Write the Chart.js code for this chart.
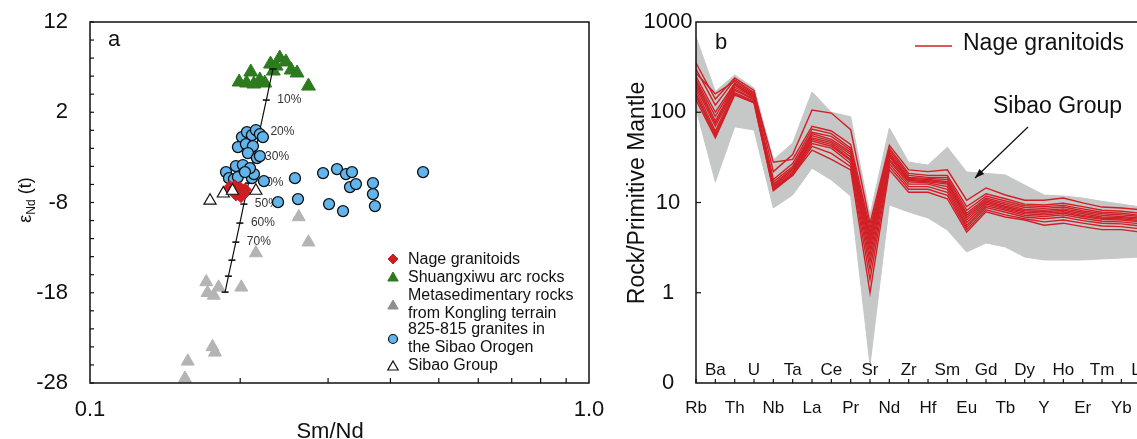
<!DOCTYPE html>
<html>
<head>
<meta charset="utf-8">
<script src="https://cdn.jsdelivr.net/npm/chart.js@4.4.0/dist/chart.umd.min.js"></script>
<style>
html, body { margin:0; padding:0; background:#fff; overflow:hidden; }
#wrap { position:relative; width:1137px; height:439px; overflow:hidden; }
#chartA { position:absolute; left:0; top:0; }
#chartB { position:absolute; left:600px; top:0; }
</style>
</head>
<body>
<div id="wrap">
<canvas id="chartA" width="640" height="439"></canvas>
<canvas id="chartB" width="560" height="439"></canvas>
</div>
<script>
// ---- panel a : Sm/Nd vs eNd(t) ----
const nageSmNd = [0.1908,0.1952,0.1979,0.2016,0.1998,0.2044,0.1934,0.1961,0.2007,0.2035];
const nageEps  = [-6.3,-6.2,-6.6,-6.8,-6.4,-6.6,-6.5,-7.1,-7.3,-7.0];
const arcSmNd = [0.199,0.210,0.213,0.219,0.224,0.230,0.233,0.240,0.247,0.253,0.260,0.274,0.206,0.236];
const arcEps  = [5.35,6.46,5.13,5.57,5.24,7.34,6.57,8.01,7.57,6.68,6.35,4.90,5.24,7.12];
const metaSmNd = [0.262,0.274,0.215,0.171,0.172,0.177,0.181,0.201,0.176,0.178,0.157,0.155];
const metaEps  = [-9.6,-12.4,-13.6,-16.8,-18.0,-18.3,-17.4,-17.4,-24.0,-24.6,-25.6,-27.5];
const granSmNd = [0.2016,0.2063,0.2111,0.2150,0.2190,0.2221,0.1979,0.2053,0.2121,0.2072,0.2160,0.2190,0.1961,0.2025,0.1873,0.1899,0.1943,0.1979,0.2111,0.2131,0.2231,0.2092,0.2044,0.2575,0.2381,0.2611,0.2931,0.3126,0.3258,0.3350,0.3319,0.3412,0.3690,0.3690,0.3724,0.3013,0.3214,0.4650];
const granEps  = [-0.75,-0.2,-0.53,0.03,-0.42,-0.75,-1.86,-1.53,-1.75,-2.52,-3.08,-2.86,-3.96,-3.85,-4.63,-5.30,-5.41,-5.18,-5.30,-4.85,-5.63,-4.19,-4.63,-5.30,-7.96,-7.62,-4.74,-4.30,-4.85,-4.63,-6.29,-5.96,-5.85,-7.07,-8.40,-8.18,-8.95,-4.63];
const sibaoSmNd = [0.174,0.185,0.193,0.215];
const sibaoEps  = [-7.8,-7.0,-6.7,-6.7];
// mixing line, one point per 10%
const mixSmNd = [0.2326,0.2256,0.2185,0.2132,0.2078,0.2034,0.1997,0.1960,0.1925,0.1894,0.1865];
const mixEps  = [6.8,3.35,-0.2,-2.97,-5.85,-8.18,-10.28,-12.39,-14.39,-16.16,-17.93];
const mixLabels = ['','10%','20%','30%','40%','50%','60%','70%','','',''];
const yTicksA = [12,2,-8,-18,-28];
const xTicksA = [0.1,1.0];
const xTickLabelsA = ['0.1','1.0'];

// ---- panel b : spider diagram ----
const elements = ['Rb','Ba','Th','U','Nb','Ta','La','Ce','Pr','Sr','Nd','Zr','Hf','Sm','Eu','Gd','Tb','Dy','Y','Ho','Er','Tm','Yb','Lu'];
const sibaoUpper = [680,170,259,186,29.6,45.6,168,100,89,7.3,67,28,26,41,21.8,21,20.2,15.6,12.1,11.8,11.2,10.3,9.6,8.9];
const sibaoLower = [110,16.9,69,63.6,8.7,12.1,24,17.8,11.8,0.158,9.4,7.85,6.74,4.96,2.83,3.56,3.21,2.49,2.31,2.31,2.31,2.37,2.43,2.49];
const nage = [
  [351,140,240,175,22,34,106,98,64,5.9,43,23,22,23,10.6,14.5,12.1,10.6,10.6,11.2,9.9,8.9,8.7,8.3],
  [300,120,230,165,28,30,70,62,44,5.2,40,21,20,20,9.0,12.5,11.0,9.6,9.4,9.8,9.0,8.2,8.0,7.6],
  [270,160,220,160,18,27,65,58,40,4.6,38,20,19,19,8.2,11.8,10.4,9.2,9.0,9.3,8.5,7.8,7.6,7.2],
  [250,100,210,155,17,25,60,54,38,4.2,36,19,18.5,18,7.6,11.2,9.9,8.8,8.6,8.9,8.1,7.5,7.3,7.0],
  [230,90,205,150,16,24,58,50,36,3.8,34,18.5,18,17,7.2,10.8,9.5,8.4,8.2,8.5,7.8,7.2,7.0,6.7],
  [220,80,200,148,15.5,23,55,48,34,3.4,33,18,17.5,16.5,6.8,10.4,9.1,8.1,7.9,8.2,7.5,6.9,6.8,6.5],
  [205,75,190,145,15,22,52,46,32,3.0,32,17.5,17,16,6.4,10.0,8.8,7.8,7.6,7.9,7.2,6.7,6.6,6.3],
  [190,70,180,140,14.5,21,50,44,30,2.6,30,17,16.5,15,6.0,9.6,8.5,7.5,7.3,7.6,7.0,6.5,6.4,6.1],
  [175,62,175,138,14,21,48,42,29,2.2,29,16,16,14,5.6,9.2,8.2,7.2,7.0,7.3,6.7,6.2,6.1,5.8],
  [160,58,165,132,15,20,45,40,27,1.8,27,15,15,13,5.3,8.8,7.8,6.9,6.6,6.9,6.3,5.9,5.8,5.5],
  [150,55,160,128,14,20,42,35,25,1.4,25,14,14,12,5.0,8.3,7.3,6.6,6.1,6.4,5.9,5.5,5.4,5.1],
  [137,52,155,127,13.5,20,38,30,23,1.0,23,13,13,11,4.7,7.9,6.9,6.4,5.6,5.9,5.4,5.0,5.0,4.7]
];
const yTicksB = [1000,100,10,1,0.1];
const yTickLabelsB = ['1000','100','10','1','0'];

const FONT = '"Liberation Sans", Arial, sans-serif';
const pts = (xs, ys) => xs.map((v, i) => ({x: v, y: ys[i]}));

function drawMarker(ctx, style, r, fill, stroke, bw, x, y) {
  ctx.fillStyle = fill; ctx.strokeStyle = stroke; ctx.lineWidth = bw;
  Chart.helpers.drawPoint(ctx, {pointStyle: style, radius: r, rotation: 0, borderWidth: bw}, x, y);
}

const panelA = {
  id: 'panelA',
  beforeDatasetsDraw(chart) {
    const {ctx, scales: {x, y}} = chart;
    ctx.save();
    ctx.fillStyle = '#333';
    ctx.font = '12px ' + FONT;
    ctx.textAlign = 'left'; ctx.textBaseline = 'middle';
    mixLabels.forEach((t, i) => {
      if (t) ctx.fillText(t, x.getPixelForValue(mixSmNd[i]) + 11, y.getPixelForValue(mixEps[i]));
    });
    ctx.restore();
  },
  afterDraw(chart) {
    const {ctx, chartArea: a, scales: {x, y}} = chart;
    ctx.save();
    ctx.strokeStyle = '#111'; ctx.lineWidth = 1.5;
    ctx.strokeRect(a.left, a.top, a.right - a.left, a.bottom - a.top);
    ctx.lineWidth = 1.2;
    for (let v = -28; v <= 12; v += 2) {
      const py = y.getPixelForValue(v);
      ctx.beginPath(); ctx.moveTo(a.left, py); ctx.lineTo(a.left + 4, py); ctx.stroke();
    }
    for (let k = 2; k <= 9; k++) {
      const px = x.getPixelForValue(k / 10);
      ctx.beginPath(); ctx.moveTo(px, a.bottom); ctx.lineTo(px, a.bottom - 5); ctx.stroke();
    }
    ctx.fillStyle = '#111';
    ctx.font = '22px ' + FONT;
    ctx.textAlign = 'right'; ctx.textBaseline = 'middle';
    yTicksA.forEach(v => ctx.fillText(String(v), 68, y.getPixelForValue(v)));
    ctx.textAlign = 'center';
    xTicksA.forEach((v, i) => ctx.fillText(xTickLabelsA[i], x.getPixelForValue(v), 410));
    ctx.fillText('Sm/Nd', 330, 432);
    ctx.textAlign = 'left';
    ctx.fillText('a', 108, 40);

    // y title: eNd (t)
    ctx.save();
    ctx.translate(25, 200); ctx.rotate(-Math.PI / 2);
    const f1 = '18px ' + FONT, f2 = '12px ' + FONT;
    ctx.font = f1; const w1 = ctx.measureText('\u03b5').width, w3 = ctx.measureText(' (t)').width;
    ctx.font = f2; const w2 = ctx.measureText('Nd').width;
    const s = -(w1 + w2 + w3) / 2;
    ctx.textBaseline = 'alphabetic';
    ctx.font = f1; ctx.fillText('\u03b5', s, 6);
    ctx.font = f2; ctx.fillText('Nd', s + w1, 10);
    ctx.font = f1; ctx.fillText(' (t)', s + w1 + w2, 6);
    ctx.restore();

    // legend
    const mx = 393, tx = 408;
    drawMarker(ctx, 'rectRot', 5, '#cc1f24', '#cc1f24', 1, mx, 259);
    drawMarker(ctx, 'triangle', 6, '#2d7a1f', '#2d7a1f', 1, mx, 278);
    drawMarker(ctx, 'triangle', 6, '#8e8e8e', '#8e8e8e', 1, mx, 306);
    drawMarker(ctx, 'circle', 4.5, '#62b4ec', '#111', 1.2, mx, 339);
    drawMarker(ctx, 'triangle', 6, '#fff', '#111', 1.2, mx, 367);
    ctx.fillStyle = '#111';
    ctx.font = '16px ' + FONT;
    ctx.textAlign = 'left'; ctx.textBaseline = 'middle';
    [['Nage granitoids', 260], ['Shuangxiwu arc rocks', 278], ['Metasedimentary rocks', 296],
     ['from Kongling terrain', 314], ['825-815 granites in', 330], ['the Sibao Orogen', 348],
     ['Sibao Group', 366]].forEach(([t, ty]) => ctx.fillText(t, tx, ty));
    ctx.restore();
  }
};

new Chart(document.getElementById('chartA'), {
  type: 'scatter',
  data: {
    datasets: [
      { label: 'Sibao Group', data: pts(sibaoSmNd, sibaoEps), pointStyle: 'triangle', pointRadius: 7,
        backgroundColor: '#fff', borderColor: '#111', borderWidth: 1.2, order: 0 },
      { label: 'Nage granitoids', data: pts(nageSmNd, nageEps), pointStyle: 'rectRot', pointRadius: 6.5,
        backgroundColor: '#cc1f24', borderColor: '#cc1f24', borderWidth: 1, order: 1 },
      { label: '825-815 granites', data: pts(granSmNd, granEps), pointStyle: 'circle', pointRadius: 5.5,
        backgroundColor: '#62b4ec', borderColor: '#111', borderWidth: 1.3, order: 2 },
      { label: 'mix ticks', data: pts(mixSmNd, mixEps), pointStyle: 'line', pointRadius: 3.5,
        borderColor: '#111', borderWidth: 1.6, order: 3 },
      { label: 'mixing', data: pts(mixSmNd, mixEps), showLine: true, pointRadius: 0,
        borderColor: '#111', borderWidth: 1.2, order: 4 },
      { label: 'Shuangxiwu arc rocks', data: pts(arcSmNd, arcEps), pointStyle: 'triangle', pointRadius: 8,
        backgroundColor: '#2d7a1f', borderColor: '#2d7a1f', borderWidth: 1, order: 5 },
      { label: 'Metasedimentary rocks', data: pts(metaSmNd, metaEps), pointStyle: 'triangle', pointRadius: 7.5,
        backgroundColor: '#b4b4b4', borderColor: '#b4b4b4', borderWidth: 1, order: 6 }
    ]
  },
  options: {
    responsive: false, animation: false,
    layout: { padding: { left: 90, top: 22, right: 51, bottom: 56 } },
    scales: {
      x: { type: 'logarithmic', min: 0.1, max: 1, display: false },
      y: { type: 'linear', min: -28, max: 12, display: false }
    },
    plugins: { legend: { display: false }, tooltip: { enabled: false } }
  },
  plugins: [panelA]
});

const panelB = {
  id: 'panelB',
  afterDraw(chart) {
    const {ctx, chartArea: a, scales: {x, y}} = chart;
    ctx.save();
    ctx.strokeStyle = '#111'; ctx.lineWidth = 1.5;
    ctx.strokeRect(a.left, a.top, a.right - a.left, a.bottom - a.top);
    ctx.lineWidth = 1.2;
    [1, 10, 100].forEach(v => {
      const py = y.getPixelForValue(v);
      ctx.beginPath(); ctx.moveTo(a.left, py); ctx.lineTo(a.left + 5, py); ctx.stroke();
    });
    elements.forEach((e, i) => {
      const px = x.getPixelForValue(i);
      ctx.beginPath(); ctx.moveTo(px, a.bottom); ctx.lineTo(px, a.bottom - 4); ctx.stroke();
    });
    ctx.fillStyle = '#111';
    ctx.font = '22px ' + FONT;
    ctx.textAlign = 'center'; ctx.textBaseline = 'middle';
    yTicksB.forEach((v, i) => ctx.fillText(yTickLabelsB[i], 68, y.getPixelForValue(v)));
    ctx.font = '17px ' + FONT;
    elements.forEach((e, i) => ctx.fillText(e, x.getPixelForValue(i), i % 2 ? 370 : 408));
    ctx.font = '22px ' + FONT;
    ctx.textAlign = 'left';
    ctx.fillText('b', 115, 43);

    ctx.save();
    ctx.translate(38, 193); ctx.rotate(-Math.PI / 2);
    ctx.textAlign = 'center';
    ctx.font = '23px ' + FONT;
    ctx.fillText('Rock/Primitive Mantle', 0, 0);
    ctx.restore();

    // legend
    ctx.strokeStyle = '#d21f26'; ctx.lineWidth = 1.5;
    ctx.beginPath(); ctx.moveTo(315, 46); ctx.lineTo(352, 46); ctx.stroke();
    ctx.font = '23px ' + FONT;
    ctx.textAlign = 'left';
    ctx.fillText('Nage granitoids', 363, 44);
    ctx.fillText('Sibao Group', 393, 107);
    // arrow
    ctx.strokeStyle = '#111'; ctx.lineWidth = 1.2;
    const x1 = 428, y1 = 127, x2 = 375, y2 = 178;
    ctx.beginPath(); ctx.moveTo(x1, y1); ctx.lineTo(x2, y2); ctx.stroke();
    const ang = Math.atan2(y2 - y1, x2 - x1);
    ctx.beginPath();
    ctx.moveTo(x2, y2);
    ctx.lineTo(x2 - 10 * Math.cos(ang - 0.35), y2 - 10 * Math.sin(ang - 0.35));
    ctx.lineTo(x2 - 10 * Math.cos(ang + 0.35), y2 - 10 * Math.sin(ang + 0.35));
    ctx.closePath(); ctx.fill();
    ctx.restore();
  }
};

const bSets = [
  { label: 'Sibao upper', data: sibaoUpper, fill: '+1', backgroundColor: '#c6c7c7', borderColor: '#c6c7c7',
    borderWidth: 1, pointRadius: 0, order: 10 },
  { label: 'Sibao lower', data: sibaoLower, fill: false, borderColor: '#c6c7c7',
    borderWidth: 1, pointRadius: 0, order: 11 }
];
nage.forEach((d, i) => bSets.push({ label: 'Nage ' + (i + 1), data: d, fill: false, borderColor: '#d21f26',
  borderWidth: 1.4, pointRadius: 0, tension: 0, order: 0 }));

new Chart(document.getElementById('chartB'), {
  type: 'line',
  data: { labels: elements, datasets: bSets },
  options: {
    responsive: false, animation: false,
    layout: { padding: { left: 96, top: 22, right: 19.3, bottom: 56 } },
    scales: {
      x: { type: 'category', offset: false, display: false },
      y: { type: 'logarithmic', min: 0.1, max: 1000, display: false }
    },
    plugins: { legend: { display: false }, tooltip: { enabled: false } }
  },
  plugins: [panelB]
});
</script>
</body>
</html>
